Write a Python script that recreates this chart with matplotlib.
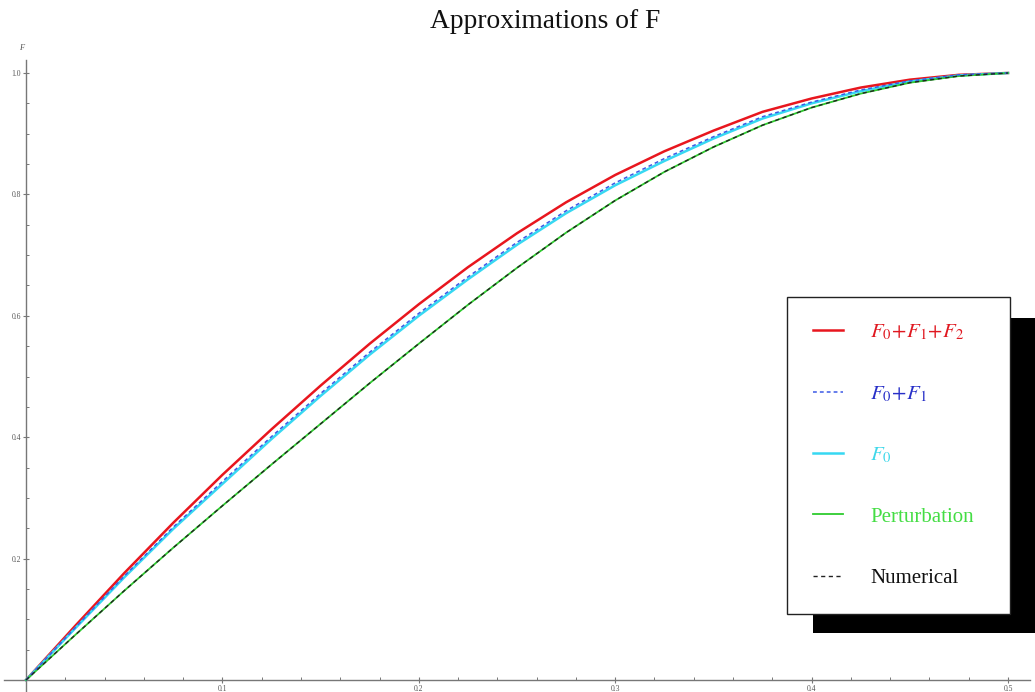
import matplotlib
matplotlib.use("Agg")
import matplotlib.pyplot as plt
from matplotlib.patches import Rectangle
from matplotlib.ticker import MultipleLocator, FixedLocator

plt.rcParams['font.family'] = ['Liberation Serif', 'DejaVu Serif']
plt.rcParams['mathtext.fontset'] = 'stix'

# ---- data ----
x = [0.0, 0.025, 0.05, 0.075, 0.1, 0.125, 0.15, 0.175, 0.2, 0.225, 0.25,
     0.275, 0.3, 0.325, 0.35, 0.375, 0.4, 0.425, 0.45, 0.475, 0.5]
f012 = [0.0, 0.089, 0.176, 0.259, 0.338, 0.413, 0.485, 0.554, 0.619, 0.680, 0.736,
        0.787, 0.832, 0.871, 0.905, 0.936, 0.958, 0.976, 0.989, 0.997, 1.0]
f01 = [0.0, 0.086, 0.171, 0.252, 0.327, 0.401, 0.472, 0.540, 0.604, 0.664, 0.721,
       0.773, 0.819, 0.859, 0.895, 0.928, 0.952, 0.972, 0.987, 0.997, 1.0]
f0 = [0.0, 0.085, 0.169, 0.249, 0.323, 0.397, 0.468, 0.536, 0.600, 0.660, 0.717,
      0.769, 0.815, 0.855, 0.892, 0.925, 0.950, 0.970, 0.986, 0.996, 1.0]
perturbation = [0.0, 0.074, 0.147, 0.218, 0.287, 0.355, 0.422, 0.489, 0.554, 0.618, 0.679,
                0.737, 0.790, 0.837, 0.878, 0.914, 0.943, 0.966, 0.984, 0.995, 1.0]
numerical = [0.0, 0.074, 0.147, 0.218, 0.287, 0.355, 0.422, 0.489, 0.554, 0.618, 0.679,
             0.737, 0.790, 0.837, 0.878, 0.914, 0.943, 0.966, 0.984, 0.995, 1.0]

labels = [r'$F_0\!+\!F_1\!+\!F_2$', r'$F_0\!+\!F_1$', r'$F_0$', 'Perturbation', 'Numerical']
x_ticks = [0.1, 0.2, 0.3, 0.4, 0.5]
x_tick_labels = ['0.1', '0.2', '0.3', '0.4', '0.5']
y_ticks = [0.2, 0.4, 0.6, 0.8, 1.0]
y_tick_labels = ['0.2', '0.4', '0.6', '0.8', '1.0']

W, H = 1035, 692
fig = plt.figure(figsize=(W / 100, H / 100), dpi=100)
ax = fig.add_axes([4 / W, 0, 1026 / W, 632 / H])
ax.patch.set_visible(False)

upx = 0.5 / 982
ax.set_xlim(-22 * upx, 0.5 + 22 * upx)
ax.set_ylim(-12 / 607, 1 + 13 / 607)

l_red, = ax.plot(x, f012, color='#e8161e', lw=1.8, zorder=3)
l_cyan, = ax.plot(x, f0, color='#36d8f2', lw=1.8, zorder=3)
l_blue, = ax.plot(x, f01, color='#3c5ae6', lw=1.1, ls=(0, (2.5, 2)), zorder=4)
l_green, = ax.plot(x, perturbation, color='#2ecc2e', lw=1.3, zorder=3)
l_black, = ax.plot(x, numerical, color='#222222', lw=1.0, ls=(0, (3, 2.5)), zorder=4)

# axes through the origin
for s in ['top', 'right']:
    ax.spines[s].set_visible(False)
ax.spines['left'].set_position(('data', 0))
ax.spines['bottom'].set_position(('data', 0))
for s in ['left', 'bottom']:
    ax.spines[s].set_color('#777777')
    ax.spines[s].set_linewidth(1.0)

ax.xaxis.set_major_locator(FixedLocator(x_ticks))
ax.set_xticklabels(x_tick_labels)
ax.xaxis.set_minor_locator(MultipleLocator(0.02))
ax.yaxis.set_major_locator(FixedLocator(y_ticks))
ax.set_yticklabels(y_tick_labels)
ax.yaxis.set_minor_locator(MultipleLocator(0.05))
ax.tick_params(which='major', direction='inout', length=5, width=0.8, color='#777777',
               labelsize=5.5, labelcolor='#555555', pad=1)
ax.tick_params(which='minor', direction='in', length=2.5, width=0.7, color='#777777')

fig.text(22 / W, 1 - 48 / H, 'F', style='italic', fontsize=6, color='#555555',
         ha='center', va='center')

fig.text(545 / W, 1 - 22 / H, 'Approximations of F', fontsize=19.8, ha='center',
         va='center', color='#111111')

# legend with heavy black shadow
fs = 15
leg = ax.legend([l_red, l_blue, l_cyan, l_green, l_black], labels,
                loc='upper left',
                bbox_to_anchor=(787 / W, 1 - 613 / H, 223 / W, 316 / H),
                bbox_transform=fig.transFigure, mode='expand',
                fontsize=fs, frameon=True, fancybox=False,
                framealpha=1, edgecolor='#222222', handlelength=1.45,
                handletextpad=1.3, labelspacing=2.0, borderpad=1.25, borderaxespad=0)
leg.get_frame().set_linewidth(1.0)
leg.set_zorder(10)
text_colors = ['#e01820', '#2830c8', '#40d8ea', '#44dd44', '#111111']
for t, c in zip(leg.get_texts(), text_colors):
    t.set_color(c)

shadow = Rectangle((813 / W, 1 - 633 / H), 222 / W, 315 / H, transform=fig.transFigure,
                   facecolor='black', edgecolor='none', zorder=-1)
fig.patches.append(shadow)

fig.savefig('out.png', dpi=100, facecolor='white')
